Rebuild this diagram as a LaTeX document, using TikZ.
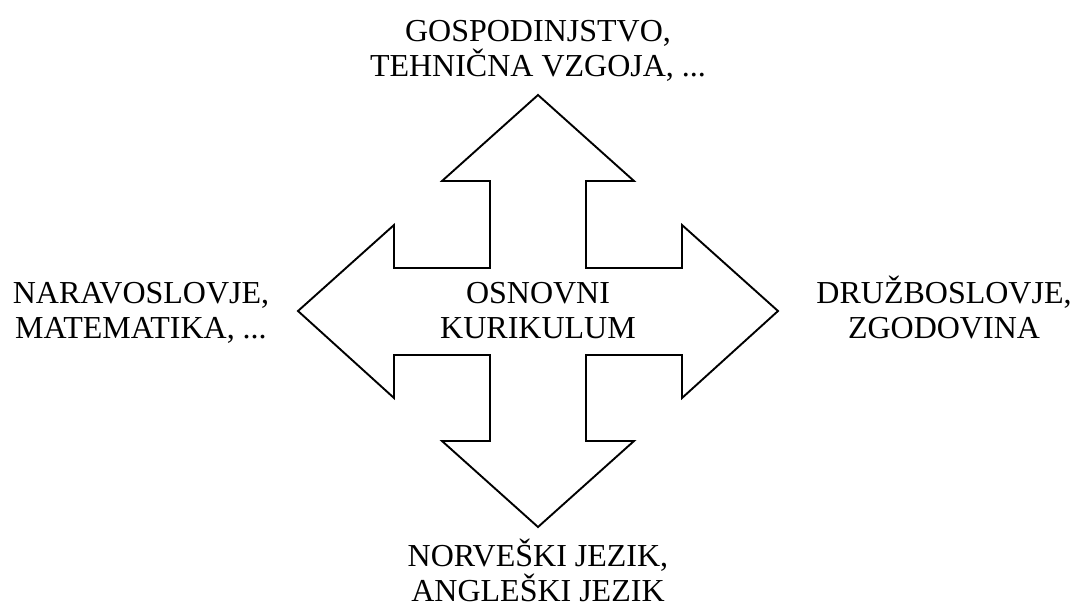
\documentclass[tikz,border=0pt]{standalone}
\usepackage{fontspec}
\setmainfont{Liberation Serif}
\begin{document}
\begin{tikzpicture}[x=1pt,y=-1pt,
  lbl/.style={font=\fontsize{32}{35}\selectfont, align=center, inner sep=0pt, anchor=base},
  cross/.style={draw=black, line width=1.9pt, line join=miter}]
\useasboundingbox[fill=white] (0,0) rectangle (1075,606);
\draw[cross] (538,95) -- (634,181) -- (586,181) -- (586,268) -- (682,268) -- (682,225)
  -- (778,311) -- (682,398) -- (682,355) -- (586,355) -- (586,441) -- (634,441)
  -- (538,527) -- (442,441) -- (490,441) -- (490,355) -- (394,355) -- (394,398)
  -- (298,311) -- (394,225) -- (394,268) -- (490,268) -- (490,181) -- (442,181) -- cycle;
\node[lbl] (center) at (538,338) {OSNOVNI\\KURIKULUM};
\node[lbl] (top) at (538,76) {GOSPODINJSTVO,\\TEHNIČNA VZGOJA, ...};
\node[lbl] (left) at (141,338) {NARAVOSLOVJE,\\MATEMATIKA, ...};
\node[lbl] (right) at (944,338) {DRUŽBOSLOVJE,\\ZGODOVINA};
\node[lbl] (bottom) at (538,601) {NORVEŠKI JEZIK,\\ANGLEŠKI JEZIK};
\end{tikzpicture}
\end{document}
